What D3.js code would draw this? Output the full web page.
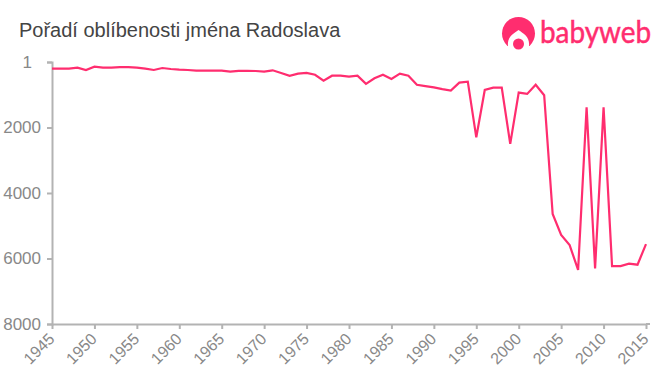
<!DOCTYPE html>
<html>
<head>
<meta charset="utf-8">
<script src="https://cdn.jsdelivr.net/npm/d3@7"></script>
<style>
    html, body { margin: 0; padding: 0; background: #fff; }
    svg { display: block; font-family: "Liberation Sans", Arial, sans-serif; }
    .axis path, .axis line { stroke: #b3b3b3; stroke-width: 2; fill: none; }
    .axis text { fill: #888; font-size: 17px; }
    .axis.x text { font-size: 16px; }
</style>
</head>
<body>
<div id="chart"></div>
<script>
// Chart data
const titleText = "Pořadí oblíbenosti jména Radoslava";
const logoText = "babyweb";
const years = d3.range(1945, 2016);
const ranks = [
    205, 205, 205, 175, 245, 145, 175, 175, 155, 155,
    175, 205, 245, 185, 215, 235, 245, 265, 265, 265,
    265, 295, 270, 270, 275, 295, 255, 335, 425, 355,
    335, 390, 570, 420, 420, 450, 420, 670, 500, 390,
    520, 355, 420, 695, 735, 775, 830, 875, 630, 600,
    2300, 855, 785, 785, 2500, 935, 975, 695, 1015, 4640,
    5280, 5590, 6350, 1385, 6300, 1385, 6230, 6230, 6160, 6190,
    5560
];
const yTicks = [1, 2000, 4000, 6000, 8000];
const xTicks = d3.range(1945, 2016, 5);

// Chart dimensions
const margin = {top: 62, right: 14, bottom: 51, left: 52};
const width = 660 - margin.left - margin.right;
const height = 375 - margin.top - margin.bottom;
const pink = "#ff2d6f";

const xScale = d3.scaleLinear().domain([1945, 2015]).range([0, width]);
const yScale = d3.scaleLinear().domain([1, 8000]).range([0, height]);

const svg = d3.select("#chart")
    .append("svg")
    .attr("width", 660)
    .attr("height", 375);

svg.append("text")
    .attr("x", 19)
    .attr("y", 37)
    .style("font-size", "20px")
    .style("fill", "#444")
    .text(titleText);

const g = svg.append("g")
    .attr("transform", `translate(${margin.left},${margin.top})`);

// Axes
const yAxis = g.append("g")
    .attr("class", "axis")
    .call(d3.axisLeft(yScale).tickValues(yTicks).tickFormat(d3.format("d")).tickSize(5).tickSizeOuter(5).tickPadding(6));

// the "1" label sits further left than the others
yAxis.selectAll(".tick text")
    .filter(d => d === 1)
    .attr("dx", -9);

const xAxis = g.append("g")
    .attr("class", "axis x")
    .attr("transform", `translate(0,${height})`)
    .call(d3.axisBottom(xScale).tickValues(xTicks).tickFormat(d3.format("d")).tickSize(5).tickSizeOuter(0));

// bottom axis runs a little past the last tick
xAxis.append("line")
    .attr("x1", width)
    .attr("x2", width + 4);

xAxis.selectAll("text")
    .attr("text-anchor", "end")
    .attr("x", 0)
    .attr("y", 0)
    .attr("dy", "0.35em")
    .attr("transform", "translate(-1,12) rotate(-45)");

// Line
const line = d3.line()
    .x((d, i) => xScale(years[i]))
    .y(d => yScale(d));

g.append("path")
    .datum(ranks)
    .attr("d", line)
    .style("fill", "none")
    .style("stroke", pink)
    .style("stroke-width", 2.2);

// Logo
const logo = svg.append("g");

logo.append("circle")
    .attr("cx", 518.5)
    .attr("cy", 33.5)
    .attr("r", 16.5)
    .style("fill", pink);

// face cut out of the head
logo.append("path")
    .attr("d", "M508 46 C507 37 513 34 518.5 30 C524 34 530 37 529 46 L530 51 L507 51 Z")
    .style("fill", "#fff");

logo.append("circle")
    .attr("cx", 518.5)
    .attr("cy", 44)
    .attr("r", 5.5)
    .style("fill", pink);

logo.append("text")
    .attr("transform", "translate(540,43) scale(0.9,1)")
    .style("font-family", "Lato, sans-serif")
    .style("font-size", "31px")
    .style("fill", pink)
    .style("stroke", pink)
    .style("stroke-width", 0.5)
    .text(logoText);
</script>
</body>
</html>
